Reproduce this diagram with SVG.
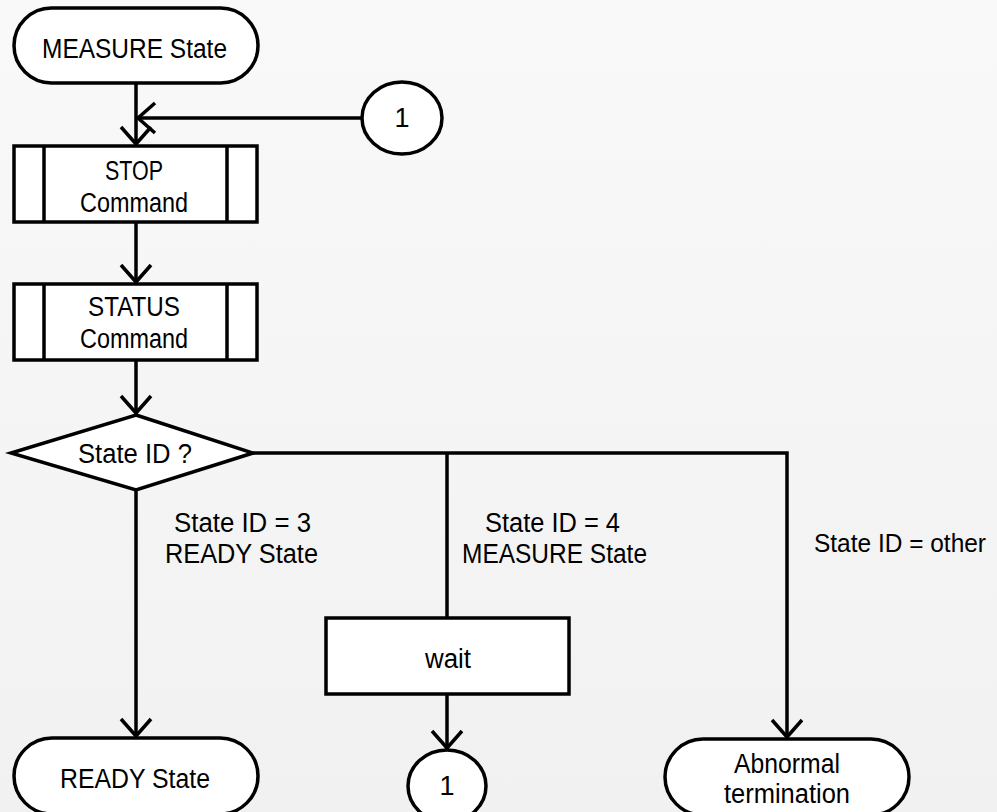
<svg xmlns="http://www.w3.org/2000/svg" width="997" height="812" viewBox="0 0 997 812">
<defs>
<linearGradient id="bg" x1="0" y1="0" x2="0" y2="1">
<stop offset="0" stop-color="#f9f9f9"/>
<stop offset="1" stop-color="#f1f1f1"/>
</linearGradient>
<marker id="arr" markerUnits="userSpaceOnUse" markerWidth="40" markerHeight="40" viewBox="-20 -20 40 40" refX="0" refY="0" orient="auto">
<path d="M-17,-15 L0,0 L-17,15" fill="none" stroke="#000" stroke-width="3.5"/>
</marker>
<style>
.s{fill:#fff;stroke:#000;stroke-width:3.5}
.c{fill:none;stroke:#000;stroke-width:3.5}
.t{font-family:"Liberation Sans",Arial,sans-serif;font-size:27px;fill:#000}
.m{text-anchor:middle}
</style>
</defs>
<rect width="997" height="812" fill="url(#bg)"/>
<g id="connectors">
<path class="c" d="M136,84 V144" marker-end="url(#arr)"/>
<path class="c" d="M362,118 H138" marker-end="url(#arr)"/>
<path class="c" d="M136,222 V282" marker-end="url(#arr)"/>
<path class="c" d="M136,360 V413" marker-end="url(#arr)"/>
<path class="c" d="M136,491 V736" marker-end="url(#arr)"/>
<path class="c" d="M253,453 H787 V737" marker-end="url(#arr)"/>
<path class="c" d="M447,453 V618"/>
<path class="c" d="M447,695 V748" marker-end="url(#arr)"/>
</g>
<g id="n-measure">
<rect class="s" x="14" y="8" width="244" height="75" rx="37.5"/>
<text class="t" x="42" y="58" textLength="185" lengthAdjust="spacingAndGlyphs">MEASURE State</text>
</g>
<g id="n-conn1-top">
<ellipse class="s" cx="402" cy="118" rx="40" ry="36"/>
<text class="t m" x="402" y="127">1</text>
</g>
<g id="n-stop">
<rect class="s" x="14" y="146" width="243" height="76"/>
<line class="c" x1="44" y1="146" x2="44" y2="222"/>
<line class="c" x1="227" y1="146" x2="227" y2="222"/>
<text class="t" x="105" y="180" textLength="58" lengthAdjust="spacingAndGlyphs">STOP</text>
<text class="t" x="80" y="212" textLength="108" lengthAdjust="spacingAndGlyphs">Command</text>
</g>
<g id="n-status">
<rect class="s" x="14" y="284" width="243" height="76"/>
<line class="c" x1="44" y1="284" x2="44" y2="360"/>
<line class="c" x1="227" y1="284" x2="227" y2="360"/>
<text class="t" x="88" y="316" textLength="92" lengthAdjust="spacingAndGlyphs">STATUS</text>
<text class="t" x="80" y="348" textLength="108" lengthAdjust="spacingAndGlyphs">Command</text>
</g>
<g id="n-decision">
<polygon class="s" points="136,415 253,453 136,490 11,453"/>
<text class="t" x="78" y="463" textLength="114" lengthAdjust="spacingAndGlyphs">State ID ?</text>
</g>
<g id="labels">
<text class="t" x="174" y="532" textLength="137" lengthAdjust="spacingAndGlyphs">State ID = 3</text>
<text class="t" x="165" y="563" textLength="153" lengthAdjust="spacingAndGlyphs">READY State</text>
<text class="t" x="485" y="532" textLength="135" lengthAdjust="spacingAndGlyphs">State ID = 4</text>
<text class="t" x="462" y="563" textLength="185" lengthAdjust="spacingAndGlyphs">MEASURE State</text>
<text class="t" x="814" y="552" style="font-size:25px" textLength="172" lengthAdjust="spacingAndGlyphs">State ID = other</text>
</g>
<g id="n-wait">
<rect class="s" x="326" y="618" width="243" height="76"/>
<text class="t" x="425" y="668" textLength="46" lengthAdjust="spacingAndGlyphs">wait</text>
</g>
<g id="n-ready">
<rect class="s" x="14" y="738" width="244" height="76" rx="38"/>
<text class="t" x="60" y="788" textLength="150" lengthAdjust="spacingAndGlyphs">READY State</text>
</g>
<g id="n-conn1-bottom">
<ellipse class="s" cx="447" cy="786" rx="39" ry="36"/>
<text class="t m" x="447" y="795">1</text>
</g>
<g id="n-abnormal">
<rect class="s" x="665" y="739" width="244" height="76" rx="38"/>
<text class="t" x="734" y="773" textLength="106" lengthAdjust="spacingAndGlyphs">Abnormal</text>
<text class="t" x="724" y="803" textLength="126" lengthAdjust="spacingAndGlyphs">termination</text>
</g>
</svg>
